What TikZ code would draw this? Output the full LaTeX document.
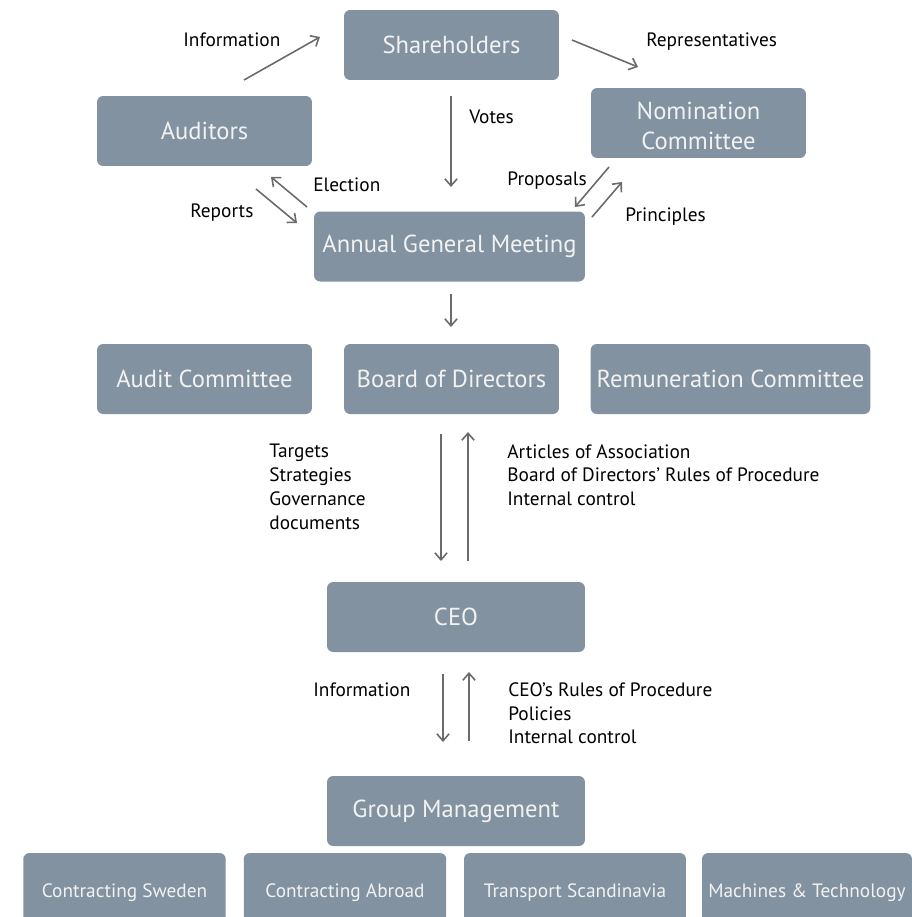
\documentclass[tikz,border=0pt]{standalone}
\usepackage{fontspec}
\setmainfont{PT Sans}
\usetikzlibrary{arrows.meta}
\definecolor{boxgray}{HTML}{8292A0}
\definecolor{arrowgray}{HTML}{6A6A6A}
\tikzset{
  orgbox/.style={fill=boxgray, rounded corners=3.5pt, text=white!95!black,
    minimum width=4.3cm, minimum height=1.4cm, font=\fontsize{14}{17}\selectfont},
  unitbox/.style={orgbox, minimum width=4.05cm, minimum height=1.6cm,
    font=\fontsize{11}{13}\selectfont},
  flow/.style={draw=arrowgray, line width=0.9pt, -{Straight Barb[length=4pt,width=7pt]}},
  lbl/.style={inner sep=0pt, anchor=west, font=\fontsize{11}{13.6}\selectfont},
  lblblock/.style={lbl, anchor=north west, align=left}
}
\begin{document}
\begin{tikzpicture}[x=0.02cm, y=-0.02cm]
    \useasboundingbox (0,0) rectangle (912,917);
    \clip (0,0) rectangle (912,917);

    % top level
    \node[orgbox] (share) at (451.5,45) {Shareholders};
    \node[orgbox] (audit) at (204.5,131) {Auditors};
    \node[orgbox] (nomin) at (698.5,123) {};
    \node[inner sep=0pt, align=center, text=white!95!black, font=\fontsize{14}{17}\selectfont] (nomtxt) at (698.5,126) {Nomination\\Committee};
    \node[orgbox, minimum width=5.42cm] (agm) at (449.5,246.5) {Annual General Meeting};

    \coordinate (info1) at (244,80);   \coordinate (info2) at (320,37);
    \coordinate (repr1) at (572,40);   \coordinate (repr2) at (638,67);
    \coordinate (vote1) at (451,96);   \coordinate (vote2) at (451,187);
    \coordinate (elec1) at (307,207);  \coordinate (elec2) at (271,177);
    \coordinate (rep1) at (256,189);   \coordinate (rep2) at (297,223);
    \coordinate (prop1) at (609,167);  \coordinate (prop2) at (575,207);
    \coordinate (prin1) at (592,217);  \coordinate (prin2) at (622,182);

    \draw[flow] (info1) -- (info2);
    \draw[flow] (repr1) -- (repr2);
    \draw[flow] (vote1) -- (vote2);
    \draw[flow] (elec1) -- (elec2);
    \draw[flow] (rep1) -- (rep2);
    \draw[flow] (prop1) -- (prop2);
    \draw[flow] (prin1) -- (prin2);

    \node[lbl] (tinfo) at (183,40) {Information};
    \node[lbl] (trepr) at (646,42) {Representatives};
    \node[lbl] (tvote) at (469,117) {Votes};
    \node[lbl] (telec) at (313,185) {Election};
    \node[lbl] (trep) at (190,213) {Reports};
    \node[lbl] (tprop) at (507,181) {Proposals};
    \node[lbl] (tprin) at (625,217) {Principles};

    % board level
    \node[orgbox] (audcom) at (204.5,379) {Audit Committee};
    \node[orgbox] (board) at (451.5,379) {Board of Directors};
    \node[orgbox, minimum width=5.58cm] (remun) at (730.5,379) {Remuneration Committee};
    \coordinate (agmb) at (451,294);   \coordinate (boardt) at (451,327);
    \draw[flow] (agmb) -- (boardt);

    % CEO
    \node[orgbox, minimum width=5.16cm] (ceo) at (456,617) {CEO};
    \coordinate (bd1) at (441,434);    \coordinate (bd2) at (441,561);
    \coordinate (bu1) at (468,561);    \coordinate (bu2) at (468,432);
    \draw[flow] (bd1) -- (bd2);
    \draw[flow] (bu1) -- (bu2);
    \node[lblblock] (tdown) at (269,444) {Targets\\Strategies\\Governance\\documents};
    \node[lblblock] (tup) at (507,444) {Articles of Association\\Board of Directors' Rules of Procedure\\Internal control};

    % group management
    \node[orgbox, minimum width=5.16cm] (group) at (456,811) {Group Management};
    \coordinate (cd1) at (443,674);    \coordinate (cd2) at (443,742);
    \coordinate (cu1) at (469,741);    \coordinate (cu2) at (469,672);
    \draw[flow] (cd1) -- (cd2);
    \draw[flow] (cu1) -- (cu2);
    \node[lbl] (tinfo2) at (313,690) {Information};
    \node[lblblock] (tceo) at (508,682) {CEO's Rules of Procedure\\Policies\\Internal control};

    % business areas
    \node[unitbox] (sweden) at (124.5,893) {Contracting Sweden};
    \node[unitbox] (abroad) at (345,893) {Contracting Abroad};
    \node[unitbox, minimum width=4.44cm] (transp) at (575,893) {Transport Scandinavia};
    \node[unitbox, minimum width=4.2cm] (machin) at (807,893) {Machines \& Technology};
\end{tikzpicture}
\end{document}
